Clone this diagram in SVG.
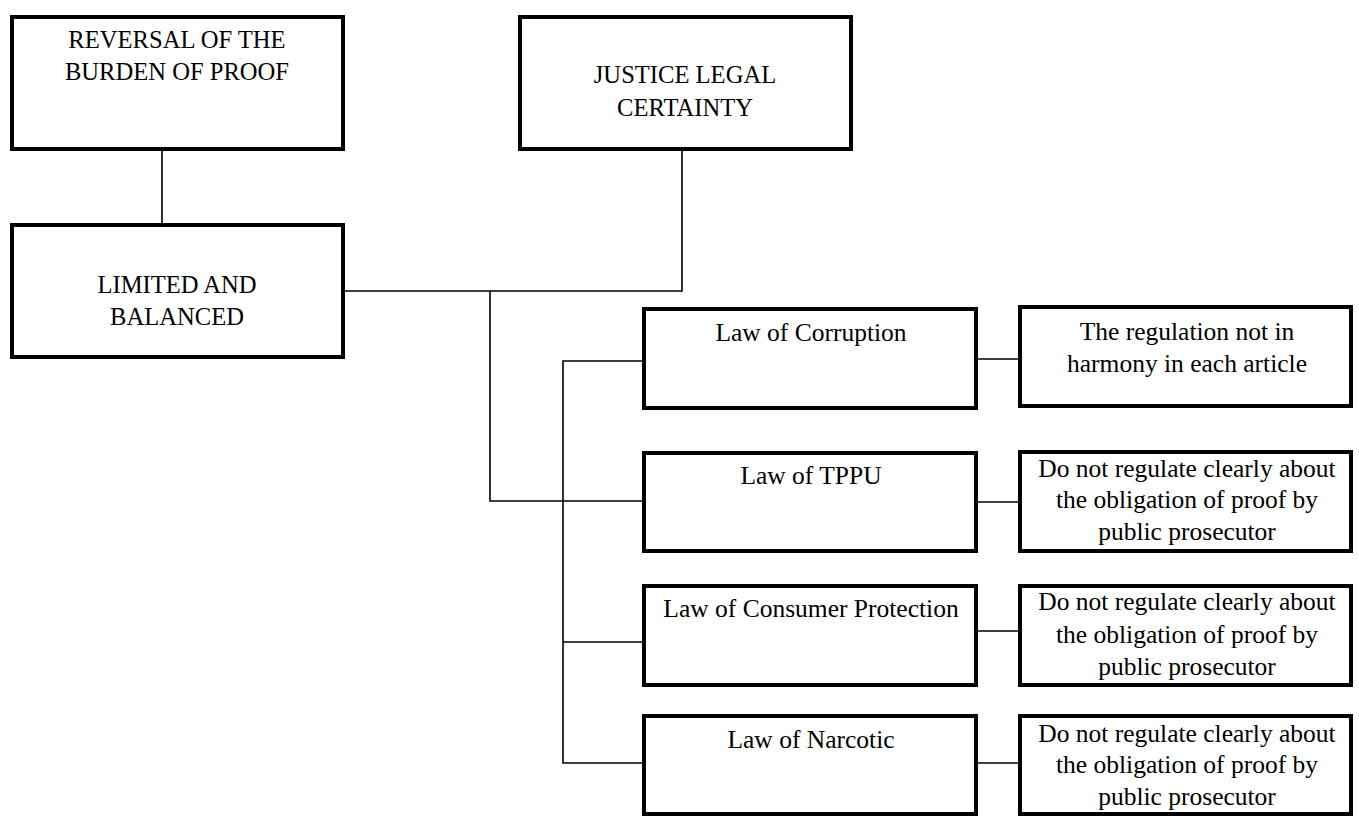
<svg xmlns="http://www.w3.org/2000/svg" width="1359" height="817" viewBox="0 0 1359 817">
<style>
.box{fill:#fff;stroke:#000;stroke-width:4}
.ln{fill:none;stroke:#000;stroke-width:1.6}
text{font-family:"Liberation Serif","Times New Roman",serif;font-size:25.5px;fill:#000;text-anchor:middle}
text.cap{font-size:24.6px}
</style>
<rect width="1359" height="817" fill="#fff"/>
<g id="connectors">
<path class="ln" d="M162 151V223"/>
<path class="ln" d="M345 291H682V151"/>
<path class="ln" d="M490 291V501H642"/>
<path class="ln" d="M642 361H563V763H642"/>
<path class="ln" d="M563 642H642"/>
<path class="ln" d="M978 359H1018"/>
<path class="ln" d="M978 502H1018"/>
<path class="ln" d="M978 631H1018"/>
<path class="ln" d="M978 763H1018"/>
</g>
<g id="reversal">
<rect class="box" x="12" y="17" width="331" height="132"/>
<text class="cap" x="177" y="48">REVERSAL OF THE</text>
<text class="cap" x="177" y="80">BURDEN OF PROOF</text>
</g>
<g id="justice">
<rect class="box" x="520" y="17" width="331" height="132"/>
<text class="cap" x="685" y="83">JUSTICE LEGAL</text>
<text class="cap" x="685" y="116">CERTAINTY</text>
</g>
<g id="limited">
<rect class="box" x="12" y="225" width="331" height="132"/>
<text class="cap" x="177" y="293">LIMITED AND</text>
<text class="cap" x="177" y="325">BALANCED</text>
</g>
<g id="corruption">
<rect class="box" x="644" y="309" width="332" height="99"/>
<text x="811" y="341">Law of Corruption</text>
</g>
<g id="corruption-result">
<rect class="box" x="1020" y="307" width="331" height="99"/>
<text x="1187" y="340">The regulation not in</text>
<text x="1187" y="372">harmony in each article</text>
</g>
<g id="tppu">
<rect class="box" x="644" y="453" width="332" height="98"/>
<text x="811" y="484">Law of TPPU</text>
</g>
<g id="tppu-result">
<rect class="box" x="1020" y="452" width="331" height="99"/>
<text x="1187" y="477">Do not regulate clearly about</text>
<text x="1187" y="508">the obligation of proof by</text>
<text x="1187" y="540">public prosecutor</text>
</g>
<g id="consumer">
<rect class="box" x="644" y="586" width="332" height="99"/>
<text x="811" y="617">Law of Consumer Protection</text>
</g>
<g id="consumer-result">
<rect class="box" x="1020" y="586" width="331" height="99"/>
<text x="1187" y="610">Do not regulate clearly about</text>
<text x="1187" y="643">the obligation of proof by</text>
<text x="1187" y="675">public prosecutor</text>
</g>
<g id="narcotic">
<rect class="box" x="644" y="716" width="332" height="98"/>
<text x="811" y="748">Law of Narcotic</text>
</g>
<g id="narcotic-result">
<rect class="box" x="1020" y="716" width="331" height="98"/>
<text x="1187" y="742">Do not regulate clearly about</text>
<text x="1187" y="773">the obligation of proof by</text>
<text x="1187" y="805">public prosecutor</text>
</g>
</svg>
